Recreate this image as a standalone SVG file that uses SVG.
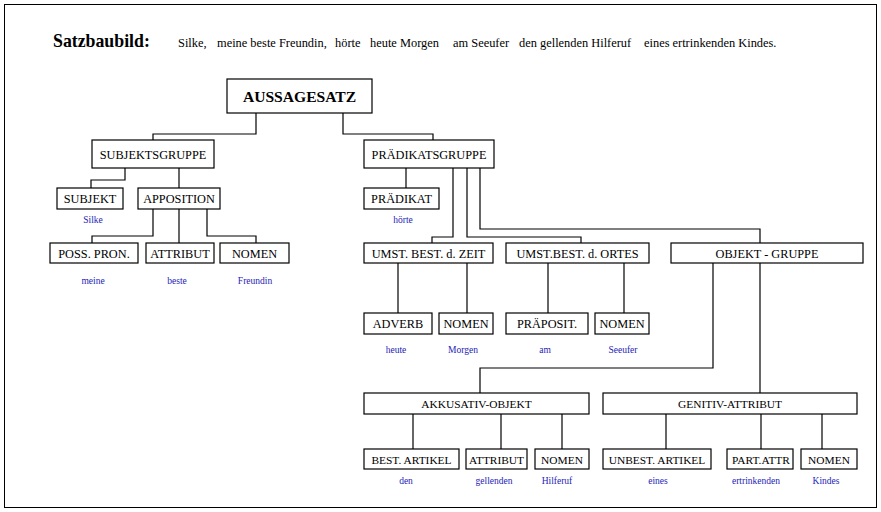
<svg xmlns="http://www.w3.org/2000/svg" width="881" height="512" viewBox="0 0 881 512">
<style>
.bx{fill:#fff;stroke:#000;stroke-width:1.2}
.t{font-family:"Liberation Serif","Times New Roman",serif;font-size:12.3px;fill:#000;text-anchor:middle}
.ts{font-family:"Liberation Serif","Times New Roman",serif;font-size:11.4px;fill:#000;text-anchor:middle}
.w{font-family:"Liberation Serif","Times New Roman",serif;font-size:9.5px;fill:#2323b8;text-anchor:middle}
.s{font-family:"Liberation Serif","Times New Roman",serif;font-size:12.4px;fill:#000}
.c{fill:none;stroke:#000;stroke-width:1.2}
</style>
<rect x="4.5" y="4.5" width="872" height="503" fill="#fff" stroke="#000" stroke-width="1"/>
<g id="title">
<text x="53" y="47" font-family="Liberation Serif, Times New Roman, serif" font-size="17.8" font-weight="bold">Satzbaubild:</text>
<text class="s" x="178" y="47">Silke,</text>
<text class="s" x="217" y="47">meine beste Freundin,</text>
<text class="s" x="335" y="47">hörte</text>
<text class="s" x="370" y="47">heute Morgen</text>
<text class="s" x="453" y="47">am Seeufer</text>
<text class="s" x="519" y="47">den gellenden Hilferuf</text>
<text class="s" x="644" y="47">eines ertrinkenden Kindes.</text>
</g>
<g id="connectors">
<polyline class="c" points="256,113 256,134 153,134 153,140"/>
<polyline class="c" points="343,113 343,134 433,134 433,140"/>
<polyline class="c" points="125,168 125,180 91,180 91,188"/>
<polyline class="c" points="179,168 179,188"/>
<polyline class="c" points="153,209 153,236 92,236 92,243"/>
<polyline class="c" points="179,209 179,243"/>
<polyline class="c" points="207,209 207,236 256,236 256,243"/>
<polyline class="c" points="406,168 406,188"/>
<polyline class="c" points="453,168 453,237 432,237 432,243"/>
<polyline class="c" points="467,168 467,237 581,237 581,243"/>
<polyline class="c" points="480,168 480,229 760,229 760,243"/>
<polyline class="c" points="398,263 398,313"/>
<polyline class="c" points="467,263 467,313"/>
<polyline class="c" points="548,263 548,313"/>
<polyline class="c" points="624,263 624,313"/>
<polyline class="c" points="713,263 713,368 480,368 480,393"/>
<polyline class="c" points="760,263 760,393"/>
<polyline class="c" points="413,414 413,449"/>
<polyline class="c" points="501,414 501,449"/>
<polyline class="c" points="562,414 562,449"/>
<polyline class="c" points="666,414 666,449"/>
<polyline class="c" points="761,414 761,449"/>
<polyline class="c" points="822,414 822,449"/>
</g>
<g id="aussagesatz"><rect class="bx" x="227" y="79" width="145" height="34"/><text x="299.5" y="102" text-anchor="middle" font-family="Liberation Serif, Times New Roman, serif" font-size="15.6" font-weight="bold">AUSSAGESATZ</text></g>
<g id="subjektsgruppe"><rect class="bx" x="92" y="140" width="122" height="28"/><text class="t" x="153" y="158.5">SUBJEKTSGRUPPE</text></g>
<g id="praedikatsgruppe"><rect class="bx" x="364" y="140" width="130" height="28"/><text class="t" x="429" y="158.5">PRÄDIKATSGRUPPE</text></g>
<g id="subjekt"><rect class="bx" x="57" y="188" width="66" height="21"/><text class="t" x="90" y="203">SUBJEKT</text><text class="w" x="93" y="223">Silke</text></g>
<g id="apposition"><rect class="bx" x="138" y="188" width="82" height="21"/><text class="t" x="179" y="203">APPOSITION</text></g>
<g id="posspron"><rect class="bx" x="50" y="243" width="88" height="20"/><text class="t" x="94" y="257.5">POSS. PRON.</text><text class="w" x="93" y="284">meine</text></g>
<g id="attribut1"><rect class="bx" x="146" y="243" width="68" height="20"/><text class="t" x="180" y="257.5">ATTRIBUT</text><text class="w" x="177" y="284">beste</text></g>
<g id="nomen1"><rect class="bx" x="220" y="243" width="69" height="20"/><text class="t" x="254.5" y="257.5">NOMEN</text><text class="w" x="255" y="284">Freundin</text></g>
<g id="praedikat"><rect class="bx" x="364" y="188" width="75" height="21"/><text class="t" x="401.5" y="203">PRÄDIKAT</text><text class="w" x="403" y="223">hörte</text></g>
<g id="zeit"><rect class="bx" x="364" y="243" width="129" height="20"/><text class="t" x="428.5" y="257.5">UMST. BEST. d. ZEIT</text></g>
<g id="ortes"><rect class="bx" x="506" y="243" width="143" height="20"/><text class="t" x="577.5" y="257.5">UMST.BEST. d. ORTES</text></g>
<g id="objektgruppe"><rect class="bx" x="671" y="243" width="192" height="20"/><text class="t" x="767" y="257.5">OBJEKT - GRUPPE</text></g>
<g id="adverb"><rect class="bx" x="364" y="313" width="68" height="21"/><text class="t" x="398" y="328">ADVERB</text><text class="w" x="396" y="353">heute</text></g>
<g id="nomen2"><rect class="bx" x="439" y="313" width="54" height="21"/><text class="t" x="466" y="328">NOMEN</text><text class="w" x="463" y="353">Morgen</text></g>
<g id="praeposit"><rect class="bx" x="506" y="313" width="82" height="21"/><text class="t" x="547" y="328">PRÄPOSIT.</text><text class="w" x="545" y="353">am</text></g>
<g id="nomen3"><rect class="bx" x="595" y="313" width="54" height="21"/><text class="t" x="622" y="328">NOMEN</text><text class="w" x="623" y="353">Seeufer</text></g>
<g id="akkusativ"><rect class="bx" x="364" y="393" width="225" height="21"/><text class="ts" x="476.5" y="408">AKKUSATIV-OBJEKT</text></g>
<g id="genitiv"><rect class="bx" x="603" y="393" width="254" height="21"/><text class="ts" x="730" y="408">GENITIV-ATTRIBUT</text></g>
<g id="bestartikel"><rect class="bx" x="364" y="449" width="95" height="20"/><text class="ts" x="411.5" y="463.5">BEST. ARTIKEL</text><text class="w" x="406" y="484">den</text></g>
<g id="attribut2"><rect class="bx" x="466" y="449" width="61" height="20"/><text class="ts" x="496.5" y="463.5">ATTRIBUT</text><text class="w" x="494" y="484">gellenden</text></g>
<g id="nomen4"><rect class="bx" x="535" y="449" width="54" height="20"/><text class="ts" x="562" y="463.5">NOMEN</text><text class="w" x="557" y="484">Hilferuf</text></g>
<g id="unbestartikel"><rect class="bx" x="603" y="449" width="108" height="20"/><text class="ts" x="657" y="463.5">UNBEST. ARTIKEL</text><text class="w" x="658" y="484">eines</text></g>
<g id="partattr"><rect class="bx" x="727" y="449" width="66" height="20"/><text class="ts" x="761" y="463.5">PART.ATTR</text><text class="w" x="756" y="484">ertrinkenden</text></g>
<g id="nomen5"><rect class="bx" x="801" y="449" width="56" height="20"/><text class="ts" x="829" y="463.5">NOMEN</text><text class="w" x="826" y="484">Kindes</text></g>
</svg>
